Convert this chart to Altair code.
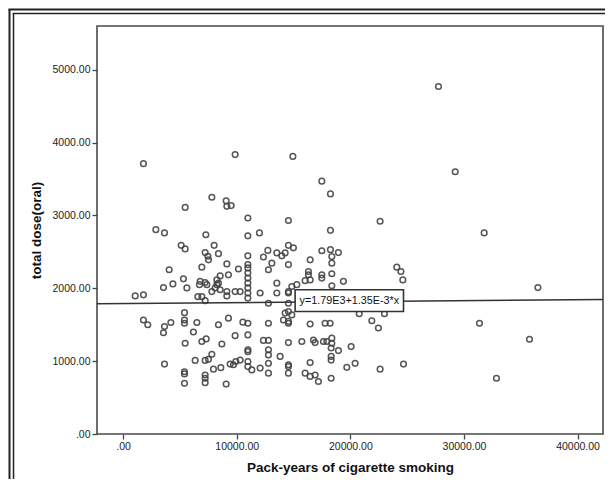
import altair as alt
import pandas as pd

# ---- data ----
pack_years = [
    1790, 9860, 5460, 7810, 9070, 9130, 9510, 10980, 10980, 2880,
    3640, 7280, 5110, 5460, 8010, 7220, 7460, 8390, 10980, 7510,
    9130, 10980, 10980, 10980, 10980, 10980, 10980, 10980, 10980, 6930,
    4050, 10150, 9270, 8540, 5310, 6780, 7220, 6720, 7370, 8250,
    8250, 8100, 8540, 8390, 3550, 4380, 5610, 7810, 9130, 9130,
    9860, 10300, 1060, 1790, 6580, 6930, 7220, 5400, 5400, 5400,
    1790, 2170, 3640, 3550, 4200, 6490, 8390, 9270, 10540, 10980,
    6190, 9860, 10980, 5460, 6930, 7310, 8690, 10980, 10980, 7810,
    7510, 7220, 6340, 3640, 9420, 9710, 9920, 10300, 10980, 10980,
    11330, 7950, 8600, 5400, 5400, 7220, 7220, 7220, 5400, 9070,
    14940, 17490, 18250, 14550, 22620, 18250, 12000, 14550, 14990, 12740,
    13530, 13970, 14260, 17490, 18250, 18950, 12350, 16460, 18370, 18370,
    13090, 14550, 12790, 16310, 16310, 17490, 17490, 18370, 24090, 24450,
    24620, 13530, 16020, 16460, 19390, 15290, 14850, 14550, 14550, 12060,
    13530, 18370, 12790, 14550, 14550, 14260, 14850, 14110, 14550, 14550,
    20780, 21890, 22470, 23000, 12790, 16460, 17780, 18220, 12350, 12790,
    14550, 15730, 16750, 16900, 17630, 17930, 18370, 18370, 18310, 18950,
    20070, 12790, 12790, 13820, 18310, 18310, 16460, 14550, 14550, 14550,
    12060, 12790, 12790, 19690, 20420, 22620, 24680, 16020, 16460, 16900,
    17190, 18310, 27760, 29230, 31780, 36510, 31370, 35770, 32860,
]
total_dose = [
    3710, 3835, 3110, 3250, 3200, 3125, 3135, 2965, 2720, 2805,
    2760, 2735, 2590, 2540, 2590, 2490, 2440, 2475, 2445, 2390,
    2335, 2325, 2280, 2210, 2140, 2070, 2005, 1935, 1865, 2290,
    2255, 2265, 2185, 2170, 2130, 2095, 2080, 2050, 2050, 2115,
    2050, 2005, 1980, 2070, 2010, 2060, 2005, 1955, 1955, 1895,
    1955, 1955, 1895, 1910, 1885, 1885, 1830, 1665, 1565, 1520,
    1565, 1500, 1475, 1390, 1530, 1530, 1500, 1590, 1535, 1520,
    1400, 1350, 1360, 1245, 1270, 1305, 1235, 1155, 1130, 1095,
    1025, 1010, 1010, 960, 960, 950, 995, 1015, 995, 925,
    880, 890, 910, 855, 825, 810, 765, 705, 695, 685,
    3810, 3470, 3295, 2930, 2920, 2795, 2760, 2590, 2555, 2520,
    2485, 2445, 2485, 2515, 2530, 2490, 2430, 2390, 2435, 2345,
    2345, 2325, 2255, 2230, 2185, 2185, 2140, 2200, 2290, 2230,
    2115, 2070, 2105, 2115, 2095, 2050, 2025, 1955, 1935, 1935,
    1935, 2035, 1795, 1795, 1680, 1660, 1635, 1565, 1545, 1520,
    1650, 1555, 1455, 1650, 1520, 1510, 1520, 1520, 1285, 1285,
    1255, 1270, 1290, 1255, 1270, 1270, 1315, 1245, 1180, 1145,
    1200, 1155, 1085, 1065, 1065, 1015, 980, 950, 925, 835,
    905, 970, 835, 915, 970, 890, 960, 835, 790, 810,
    720, 765, 4770, 3600, 2760, 2010, 1520, 1300, 765,
]

# fitted line as drawn (left and right ends) and its label
fit_x = [-2300, 42240]
fit_y = [1787, 1847]
fit_label = "y=1.79E3+1.35E-3*x"
label_x = [19910]
label_y = [1830]
label_box_x = [15140]
label_box_x2 = [24680]
label_box_y = [1681]
label_box_y2 = [1979]

x_ticks = [0, 10000, 20000, 30000, 40000]
y_ticks = [0, 1000, 2000, 3000, 4000, 5000]
x_domain = [-2300, 42240]
y_domain = [0, 5600]

FONT = "Liberation Sans"
GRAY = "#444444"

pts = pd.DataFrame({"x": pack_years, "y": total_dose})
fit = pd.DataFrame({"x": fit_x, "y": fit_y})
lab = pd.DataFrame({"x": label_x, "y": label_y, "t": [fit_label]})
box = pd.DataFrame({"x": label_box_x, "x2": label_box_x2,
                    "y": label_box_y, "y2": label_box_y2})
one = pd.DataFrame({"a": [0]})

xs = alt.Scale(domain=x_domain, nice=False, zero=False)
ys = alt.Scale(domain=y_domain, nice=False, zero=False)
lbl = "datum.value == 0 ? '.00' : format(datum.value, '.2f')"

x_axis = alt.Axis(values=x_ticks, labelExpr=lbl, grid=False, domain=False,
                  tickSize=5, tickColor=GRAY, tickWidth=1.3, labelPadding=2,
                  labelFont=FONT, labelFontSize=10.5, labelColor="#222",
                  title="Pack-years of cigarette smoking", titleFont=FONT,
                  titleFontSize=13.5, titleFontWeight="bold", titleColor="#111",
                  titlePadding=9)
y_axis = alt.Axis(values=y_ticks, labelExpr=lbl, grid=False, domain=False,
                  tickSize=5, tickColor=GRAY, tickWidth=1.3, labelPadding=2,
                  labelFont=FONT, labelFontSize=10.5, labelColor="#222",
                  title="total dose(oral)", titleFont=FONT,
                  titleFontSize=13.5, titleFontWeight="bold", titleColor="#111",
                  titlePadding=9)

points = alt.Chart(pts).mark_point(
    shape="circle", filled=False, size=32, strokeWidth=1.5,
    color=GRAY, opacity=0.9
).encode(
    x=alt.X("x:Q", scale=xs, axis=x_axis),
    y=alt.Y("y:Q", scale=ys, axis=y_axis),
)

line = alt.Chart(fit).mark_line(color="#333", strokeWidth=1.5).encode(
    x=alt.X("x:Q", scale=xs), y=alt.Y("y:Q", scale=ys))

box_mark = alt.Chart(box).mark_rect(
    fill="white", stroke="#333", strokeWidth=1.6
).encode(x=alt.X("x:Q", scale=xs), x2="x2:Q",
         y=alt.Y("y:Q", scale=ys), y2="y2:Q")

text = alt.Chart(lab).mark_text(
    font=FONT, fontSize=10.8, color="#111", align="center", baseline="middle"
).encode(x=alt.X("x:Q", scale=xs), y=alt.Y("y:Q", scale=ys), text="t:N")

# outer double frame of the picture (left and top edges)
frame = [
    alt.Chart(one).mark_rule(color="#222", strokeWidth=2).encode(
        x=alt.value(-87.5), y=alt.value(-17), y2=alt.value(470)),
    alt.Chart(one).mark_rule(color="#222", strokeWidth=1.5).encode(
        x=alt.value(-83.5), y=alt.value(-13), y2=alt.value(470)),
    alt.Chart(one).mark_rule(color="#222", strokeWidth=2).encode(
        x=alt.value(-88.5), x2=alt.value(530), y=alt.value(-16.5)),
    alt.Chart(one).mark_rule(color="#222", strokeWidth=1.5).encode(
        x=alt.value(-84.25), x2=alt.value(530), y=alt.value(-12.5)),
]

chart = alt.layer(points, line, box_mark, text, *frame).properties(
    width=506, height=408,
    padding={"left": 89, "top": 18, "right": 2, "bottom": 45},
    autosize=alt.AutoSizeParams(type="none"),
    background="white",
).configure_view(stroke="#4a4a4a", strokeWidth=1.6)

chart.save("out.html", embed_options={"renderer": "svg", "actions": False})
